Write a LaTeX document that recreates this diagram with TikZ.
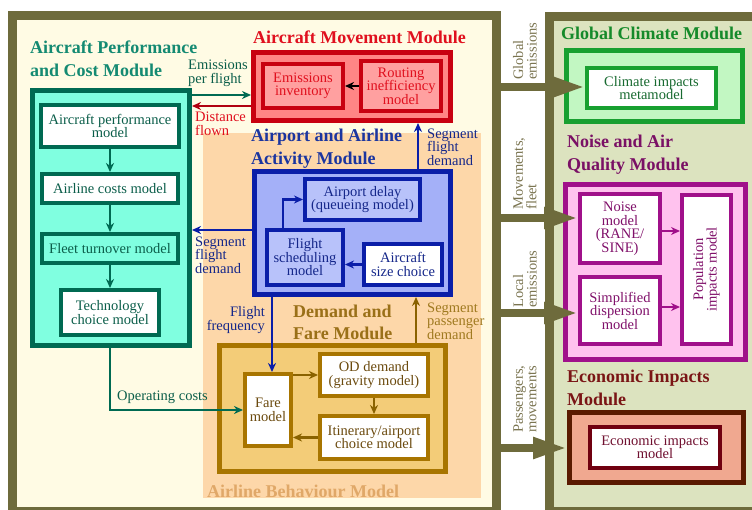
\documentclass[tikz,border=0pt]{standalone}
\usepackage{fontspec}
\setmainfont{Liberation Serif}
\usetikzlibrary{arrows.meta}
\definecolor{cOlive}{HTML}{6E6B3C}
\definecolor{cOliveText}{HTML}{7A7450}
\definecolor{cCream}{HTML}{FFFBE4}
\definecolor{cRightBg}{HTML}{DCE3BF}
\definecolor{cPeach}{HTML}{FDD7A9}
\definecolor{cTealFill}{HTML}{80FFE0}
\definecolor{cTealBorder}{HTML}{006A52}
\definecolor{cTealText}{HTML}{0B5E4A}
\definecolor{cTealTitle}{HTML}{148A72}
\definecolor{cRedFill}{HTML}{FF8585}
\definecolor{cRedInner}{HTML}{FFA0A0}
\definecolor{cRedBorder}{HTML}{C80010}
\definecolor{cRedText}{HTML}{E0101E}
\definecolor{cRedArrow}{HTML}{B00010}
\definecolor{cBlueFill}{HTML}{A4B0F8}
\definecolor{cBlueInner}{HTML}{B8C2FA}
\definecolor{cBlueBorder}{HTML}{0A1EA8}
\definecolor{cBlueText}{HTML}{15278A}
\definecolor{cBlueTitle}{HTML}{1A35A0}
\definecolor{cGoldFill}{HTML}{F3CC78}
\definecolor{cGoldBorder}{HTML}{A87500}
\definecolor{cGoldText}{HTML}{6B4A0E}
\definecolor{cGoldTitle}{HTML}{9A7018}
\definecolor{cGoldArrow}{HTML}{8A6200}
\definecolor{cGoldLabel}{HTML}{A07A20}
\definecolor{cABM}{HTML}{E0A868}
\definecolor{cGreenFill}{HTML}{C2F7C2}
\definecolor{cGreenBorder}{HTML}{18A030}
\definecolor{cGreenText}{HTML}{186A30}
\definecolor{cGreenTitle}{HTML}{158A2A}
\definecolor{cPinkFill}{HTML}{FFC2EE}
\definecolor{cPinkBorder}{HTML}{A0108A}
\definecolor{cPinkText}{HTML}{80106A}
\definecolor{cPinkTitle}{HTML}{7A1065}
\definecolor{cEconFill}{HTML}{F0A890}
\definecolor{cEconBorder}{HTML}{5A1A00}
\definecolor{cEconInner}{HTML}{700010}
\definecolor{cEconText}{HTML}{701030}
\definecolor{cEconTitle}{HTML}{7A1515}
\begin{document}
\begin{tikzpicture}[x=1pt,y=-1pt,
  lab/.style={font=\fontsize{14.5}{13.5}\selectfont, inner sep=0pt, align=left},
  ttl/.style={font=\fontsize{18}{23}\selectfont\bfseries, inner sep=0pt, align=left, anchor=west},
  modbox/.style={draw, line width=5pt},
  bx/.style={draw, line width=4pt, align=center, inner sep=1pt, font=\fontsize{14.5}{13.5}\selectfont},
  arr/.style={line width=2.6pt, -{Stealth[length=9pt,width=8pt]}},
  bigarr/.style={draw=cOlive, line width=8pt, -{Triangle[length=34pt,width=20pt]}},
  striplab/.style={font=\fontsize{14.5}{13.5}\selectfont, inner sep=0pt, align=left, rotate=90, anchor=west, text=cOliveText},
]
\useasboundingbox (0,0) rectangle (752,510);
\clip (0,0) rectangle (752,510);

% panels
\node[draw=cOlive, fill=cRightBg, line width=9pt, minimum width=230.5pt, minimum height=495pt] (rp) at (664.75,264) {};
\node[draw=cOlive, fill=cCream, line width=9pt, minimum width=484pt, minimum height=496pt] (lp) at (254.5,263.5) {};
\fill[cPeach] (203,133) rectangle (481,498);

% Aircraft performance and cost module
\node[modbox, draw=cTealBorder, fill=cTealFill, minimum width=157pt, minimum height=255pt] (teal) at (111,218) {};
\node[bx, draw=cTealBorder, fill=white, text=cTealText, minimum width=138pt, minimum height=42pt] (perf) at (110,126) {Aircraft performance\\model};
\node[bx, draw=cTealBorder, fill=white, text=cTealText, minimum width=136pt, minimum height=29pt] (costs) at (110,188.5) {Airline costs model};
\node[bx, draw=cTealBorder, fill=cTealFill, text=cTealText, minimum width=136pt, minimum height=29pt] (fleet) at (110,248.5) {Fleet turnover model};
\node[bx, draw=cTealBorder, fill=white, text=cTealText, minimum width=98pt, minimum height=45pt] (tech) at (110,312.5) {Technology\\choice model};

% Aircraft movement module
\node[modbox, draw=cRedBorder, fill=cRedFill, minimum width=197pt, minimum height=68pt] (red) at (352,86.5) {};
\node[bx, draw=cRedBorder, fill=cRedInner, text=cRedText, minimum width=80pt, minimum height=44pt] (emis) at (303,86) {Emissions\\inventory};
\node[bx, draw=cRedBorder, fill=cRedInner, text=cRedText, minimum width=80pt, minimum height=50pt] (rout) at (401,86) {Routing\\inefficiency\\model};

% Airport and airline activity module
\node[modbox, draw=cBlueBorder, fill=cBlueFill, minimum width=196pt, minimum height=123pt] (blue) at (352.5,233) {};
\node[bx, draw=cBlueBorder, fill=cBlueInner, text=cBlueText, minimum width=115pt, minimum height=41pt] (delay) at (362.5,199.5) {Airport delay\\(queueing model)};
\node[bx, draw=cBlueBorder, fill=cBlueInner, text=cBlueText, minimum width=76pt, minimum height=55pt] (sched) at (305,257.5) {Flight\\scheduling\\model};
\node[bx, draw=cBlueBorder, fill=white, text=cBlueText, minimum width=78pt, minimum height=41pt] (size) at (403,264.5) {Aircraft\\size choice};

% Demand and fare module
\node[modbox, draw=cGoldBorder, fill=cGoldFill, minimum width=226pt, minimum height=126pt] (gold) at (332.5,408.5) {};
\node[bx, draw=cGoldBorder, fill=white, text=cGoldText, minimum width=46pt, minimum height=72pt] (fare) at (268,410) {Fare\\model};
\node[bx, draw=cGoldBorder, fill=white, text=cGoldText, minimum width=108pt, minimum height=42pt] (od) at (374,375) {OD demand\\(gravity model)};
\node[bx, draw=cGoldBorder, fill=white, text=cGoldText, minimum width=108pt, minimum height=43pt] (itin) at (374,437.5) {Itinerary/airport\\choice model};

% Global climate module
\node[modbox, draw=cGreenBorder, fill=cGreenFill, minimum width=176pt, minimum height=71pt] (green) at (654.5,86) {};
\node[bx, draw=cGreenBorder, fill=white, text=cGreenText, minimum width=129pt, minimum height=40pt] (clim) at (651.5,88) {Climate impacts\\metamodel};

% Noise and air quality module
\node[modbox, draw=cPinkBorder, fill=cPinkFill, minimum width=180pt, minimum height=175pt] (pink) at (655.5,272) {};
\node[bx, draw=cPinkBorder, fill=white, text=cPinkText, minimum width=80pt, minimum height=69pt] (noise) at (620,228.5) {Noise\\model\\(RANE/\\SINE)};
\node[bx, draw=cPinkBorder, fill=white, text=cPinkText, minimum width=80pt, minimum height=67pt] (disp) at (620,310.5) {Simplified\\dispersion\\model};
\node[bx, draw=cPinkBorder, fill=white, minimum width=49pt, minimum height=149pt] (pop) at (706.5,269.5) {};
\node[lab, rotate=90, align=center, text=cPinkText] (poptext) at (pop.center) {Population\\impacts model};

% Economic impacts module
\node[modbox, draw=cEconBorder, fill=cEconFill, minimum width=174pt, minimum height=70pt] (econ) at (656.5,447.5) {};
\node[bx, draw=cEconInner, fill=white, text=cEconText, minimum width=130pt, minimum height=41pt] (econm) at (655,447.5) {Economic impacts\\model};

% titles
\node[ttl, text=cTealTitle] (tapc) at (30,58.5) {Aircraft Performance\\and Cost Module};
\node[ttl, text=cRedText] (tamm) at (253,37) {Aircraft Movement Module};
\node[ttl, text=cBlueTitle] (taaa) at (251,148.5) {Airport and Airline\\Activity Module};
\node[ttl, text=cGoldTitle, font=\fontsize{18}{22}\selectfont\bfseries] (tdfm) at (293,322.5) {Demand and\\Fare Module};
\node[ttl, text=cABM] (tabm) at (207,491) {Airline Behaviour Model};
\node[ttl, text=cGreenTitle] (tgcm) at (561,33) {Global Climate Module};
\node[ttl, text=cPinkTitle] (tnaq) at (567,155) {Noise and Air\\Quality Module};
\node[ttl, text=cEconTitle] (teim) at (567,388) {Economic Impacts\\Module};

% helper coordinates
\coordinate (yEPF) at (0,95);
\coordinate (yDF) at (0,106);
\coordinate (xSFD) at (418,0);
\coordinate (ySFD) at (0,230);
\coordinate (xFF) at (272,0);
\coordinate (xSPD) at (416,0);
\coordinate (xOC) at (110,0);
\coordinate (xFS) at (283,0);
\coordinate (yN) at (0,231);
\coordinate (yD) at (0,307);
\coordinate (yGE) at (0,87);
\coordinate (yMF) at (0,218);
\coordinate (yLE) at (0,313);
\coordinate (yPM) at (0,448);

% internal arrows
\draw[arr, cTealBorder] (perf.south) -- (costs.north);
\draw[arr, cTealBorder] (costs.south) -- (fleet.north);
\draw[arr, cTealBorder] (fleet.south) -- (tech.north);
\draw[arr, black] (rout.west) -- (emis.east);
\draw[arr, cBlueBorder] (size.west) -- (sched.east |- size.west);
\draw[arr, cBlueBorder] (sched.north -| xFS) |- (delay.west);
\draw[arr, cGoldArrow] (fare.east |- od.west) -- (od.west);
\draw[arr, cGoldArrow] (od.south) -- (itin.north);
\draw[arr, cGoldArrow] (itin.west) -- (fare.east |- itin.west);
\draw[arr, cPinkBorder] (noise.east |- yN) -- (pop.west |- yN);
\draw[arr, cPinkBorder] (disp.east |- yD) -- (pop.west |- yD);

% module arrows
\draw[arr, cTealBorder] (teal.east |- yEPF) -- (red.west |- yEPF);
\draw[arr, cRedArrow] (red.west |- yDF) -- (teal.east |- yDF);
\draw[arr, cBlueBorder] (blue.north -| xSFD) -- (red.south -| xSFD);
\draw[arr, cBlueBorder] (blue.west |- ySFD) -- (teal.east |- ySFD);
\draw[arr, cBlueBorder] (blue.south -| xFF) -- (fare.north -| xFF);
\draw[arr, cGoldArrow] (gold.north -| xSPD) -- (blue.south -| xSPD);
\draw[arr, cTealBorder] (teal.south -| xOC) |- (fare.west);

% labels
\node[lab, anchor=west, text=cTealText] (lepf) at (188,73.5) {Emissions\\per flight};
\node[lab, anchor=west, text=cRedText] (ldf) at (195,124) {Distance\\flown};
\node[lab, anchor=west, text=cBlueText] (lsfd1) at (427,147) {Segment\\flight\\demand};
\node[lab, anchor=west, text=cBlueText] (lsfd2) at (195,255) {Segment\\flight\\demand};
\node[lab, anchor=east, align=right, text=cBlueText] (lff) at (265,320) {Flight\\frequency};
\node[lab, anchor=west, text=cGoldLabel] (lspd) at (427,321) {Segment\\passenger\\demand};
\node[lab, anchor=west, text=cTealText] (loc) at (117,397) {Operating costs};

% big arrows across the strip
\draw[bigarr] (lp.east |- yGE) -- (clim.west |- yGE);
\draw[bigarr] (lp.east |- yMF) -- (noise.west |- yMF);
\draw[bigarr] (lp.east |- yLE) -- (disp.west |- yLE);
\draw[bigarr] (lp.east |- yPM) -- (econ.west |- yPM);

\node[striplab] (sge) at (525,80) {Global\\emissions};
\node[striplab] (smf) at (525,210) {Movements,\\fleet};
\node[striplab] (sle) at (525,308) {Local\\emissions};
\node[striplab] (spm) at (525,433) {Passengers,\\movements};
\end{tikzpicture}
\end{document}
